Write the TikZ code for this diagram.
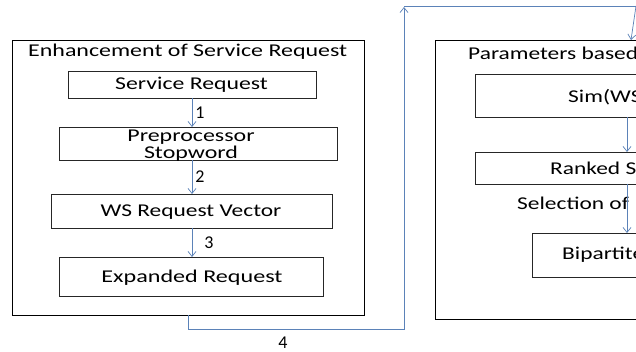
\documentclass[tikz,border=0pt]{standalone}
\usepackage{fontspec}
\setmainfont{Carlito}
\usetikzlibrary{arrows.meta}
\definecolor{flow}{HTML}{5B82B8}
% widened lettering
\newcommand\wtext[2]{\scalebox{#1}[1]{#2}}
\tikzset{
  panel/.style={draw=black, line width=0.9pt},
  stage/.style={draw=black!85, line width=0.8pt},
  lbl/.style={font=\fontsize{18}{17}\selectfont, inner sep=0pt},
  flowarrow/.style={draw=flow, line width=0.7pt, -{Straight Barb[length=5pt,width=8pt]}},
  flowline/.style={draw=flow, line width=0.7pt},
}
\begin{document}
\begin{tikzpicture}[x=1pt, y=-1pt]
\useasboundingbox (0,0) rectangle (636,352);
\clip (0,0) rectangle (636,352);
\fill[white] (0,0) rectangle (636,352);

% left panel: enhancement of the service request
\draw[panel] (12,40) rectangle (364,315);
\node[lbl, anchor=west] (t1) at (28,52) {\wtext{1.33}{Enhancement of Service Request}};
\draw[stage] (68,71) rectangle (316,98);
\node[lbl] (sr) at (191.5,85) {\wtext{1.32}{Service Request}};
\coordinate (srb) at (192,98);
\draw[stage] (59,127) rectangle (337,160);
\node[lbl, align=center] (pp) at (191,145.5) {\wtext{1.33}{Preprocessor}\\\wtext{1.33}{Stopword}};
\coordinate (ppt) at (192,127);
\coordinate (ppb) at (192,160);
\draw[stage] (51,194) rectangle (332,228);
\node[lbl] (wv) at (191,212) {\wtext{1.3}{WS Request Vector}};
\coordinate (wvt) at (192,194);
\coordinate (wvb) at (192,228);
\draw[stage] (59,257) rectangle (323,296);
\node[lbl] (er) at (192,278) {\wtext{1.34}{Expanded Request}};
\coordinate (ert) at (192,257);

\draw[flowarrow] (srb) -- node[lbl, right=3pt, black] {1} (ppt);
\draw[flowarrow] (ppb) -- node[lbl, right=3pt, black] {2} (wvt);
\draw[flowarrow] (wvb) -- node[lbl, right=12pt, black] {3} (ert);

% transfer to the right panel
\coordinate (lb) at (188,315);
\coordinate (up) at (404,7);
\draw[flowarrow] (lb) -- (188,329) -- (404,329) -- (up);
\node[lbl] (n4) at (283,343) {4};
\coordinate (top) at (636,6);
\coordinate (rt) at (631,40);
\draw[flowline] (404,6) -- (top);
\draw[flowarrow] (top) -- (rt);

% right panel: parameter based selection
\draw[panel] (435,40) rectangle (700,319);
\node[lbl, anchor=west] (t2) at (468,53) {\wtext{1.3}{Parameters based}};
\draw[stage] (475,74) rectangle (700,117);
\node[lbl, anchor=west] (sim) at (568,97) {\wtext{1.3}{Sim(WS}};
\draw[stage] (475,152) rectangle (700,184);
\node[lbl, anchor=west] (rk) at (550,168) {\wtext{1.3}{Ranked S}};
\node[lbl, anchor=west] (sel) at (517,203) {\wtext{1.3}{Selection of}};
\draw[stage] (532,233) rectangle (700,277);
\node[lbl, anchor=west] (bp) at (562,255) {\wtext{1.3}{Bipartite}};

\draw[flowarrow] (627,117) -- (627,152);
\draw[flowarrow] (627,184) -- (627,233);
\end{tikzpicture}
\end{document}
